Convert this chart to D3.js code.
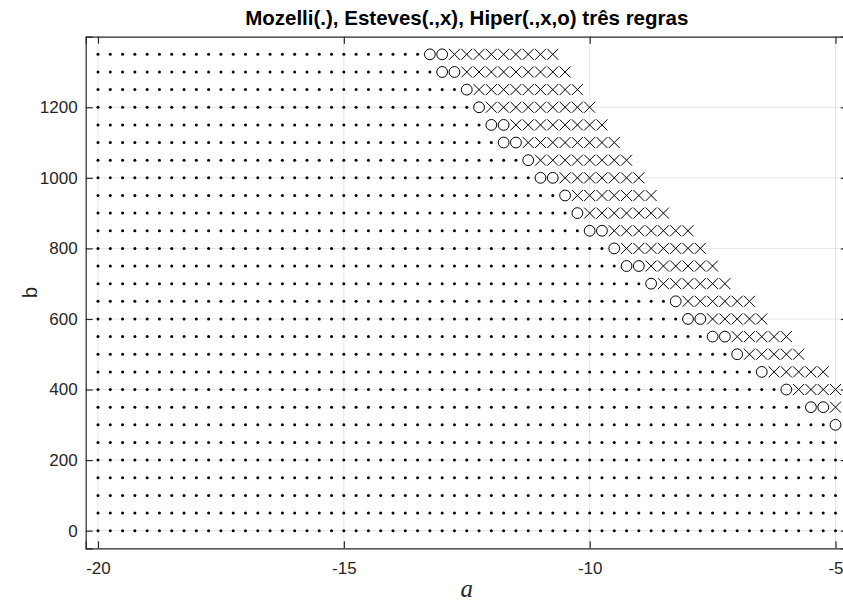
<!DOCTYPE html>
<html>
<head>
<meta charset="utf-8">
<script src="https://cdn.jsdelivr.net/npm/d3@7"></script>
<style>
  html, body { margin: 0; padding: 0; background: #fff; }
  svg { display: block; }
</style>
</head>
<body>
<svg id="chart" width="843" height="603"></svg>
<script>
// Grid of tested (a, b) pairs
const aGrid = [-20, -19.75, -19.5, -19.25, -19, -18.75, -18.5, -18.25, -18, -17.75, -17.5, -17.25,
  -17, -16.75, -16.5, -16.25, -16, -15.75, -15.5, -15.25, -15, -14.75, -14.5, -14.25,
  -14, -13.75, -13.5, -13.25, -13, -12.75, -12.5, -12.25, -12, -11.75, -11.5, -11.25,
  -11, -10.75, -10.5, -10.25, -10, -9.75, -9.5, -9.25, -9, -8.75, -8.5, -8.25,
  -8, -7.75, -7.5, -7.25, -7, -6.75, -6.5, -6.25, -6, -5.75, -5.5, -5.25, -5];

const bRows = [1350, 1300, 1250, 1200, 1150, 1100, 1050, 1000, 950, 900, 850, 800, 750, 700,
  650, 600, 550, 500, 450, 400, 350, 300, 250, 200, 150, 100, 50, 0];

// Mozelli (.): largest a still feasible on each row
const mozelliLast = [-13.5, -13.25, -12.75, -12.5, -12.25, -12, -11.5, -11.25, -10.75, -10.5,
  -10.25, -9.75, -9.5, -9, -8.5, -8.25, -7.75, -7.25, -6.75, -6.25, -5.75, -5.25,
  -5, -5, -5, -5, -5, -5];

// Hiper (o): extra feasible points on each row
const hiperPoints = [[-13.25, -13], [-13, -12.75], [-12.5], [-12.25], [-12, -11.75], [-11.75, -11.5],
  [-11.25], [-11, -10.75], [-10.5], [-10.25], [-10, -9.75], [-9.5], [-9.25, -9], [-8.75],
  [-8.25], [-8, -7.75], [-7.5, -7.25], [-7], [-6.5], [-6], [-5.5, -5.25], [-5],
  [], [], [], [], [], []];

// Esteves (x): [first a, last a] on each row
const estevesSpan = [[-12.75, -10.75], [-12.5, -10.5], [-12.25, -10.25], [-12, -10], [-11.5, -9.75],
  [-11.25, -9.5], [-11, -9.25], [-10.5, -9], [-10.25, -8.75], [-10, -8.5], [-9.5, -8],
  [-9.25, -7.75], [-8.75, -7.5], [-8.5, -7.25], [-8, -6.75], [-7.5, -6.5], [-7, -6],
  [-6.75, -5.75], [-6.25, -5.25], [-5.75, -5], [-5, -5], null,
  null, null, null, null, null, null];

const xTicks = [-20, -15, -10, -5];
const yTicks = [0, 200, 400, 600, 800, 1000, 1200];
const titleText = "Mozelli(.), Esteves(.,x), Hiper(.,x,o) três regras";

const svg = d3.select("#chart");
const ink = "#262626";
const sans = "'Liberation Sans', Arial, Helvetica, sans-serif";

const x = d3.scaleLinear().domain([-20.25, -4.75]).range([85.7, 847.8]);
const y = d3.scaleLinear().domain([-50, 1400]).range([548.3, 36.7]);
const [x0, x1] = x.range();
const [y0, y1] = y.range();

// Grid lines
const grid = svg.append("g").attr("stroke", "#e5e5e5").attr("stroke-width", 1);
grid.selectAll("line.gx").data(xTicks).join("line")
  .attr("x1", d => x(d)).attr("x2", d => x(d)).attr("y1", y0).attr("y2", y1);
grid.selectAll("line.gy").data(yTicks).join("line")
  .attr("y1", d => y(d)).attr("y2", d => y(d)).attr("x1", x0).attr("x2", x1);

// Build point sets
const dots = [], circles = [], crosses = [];
bRows.forEach((b, i) => {
  aGrid.filter(a => a <= mozelliLast[i]).forEach(a => dots.push({ a, b }));
  hiperPoints[i].forEach(a => circles.push({ a, b }));
  const s = estevesSpan[i];
  if (s) aGrid.filter(a => a >= s[0] && a <= s[1]).forEach(a => crosses.push({ a, b }));
});

const marks = svg.append("g");
marks.selectAll("circle.dot").data(dots).join("circle")
  .attr("cx", d => x(d.a)).attr("cy", d => y(d.b)).attr("r", 1.5).attr("fill", "#000");
marks.selectAll("circle.o").data(circles).join("circle")
  .attr("cx", d => x(d.a)).attr("cy", d => y(d.b)).attr("r", 5.4)
  .attr("fill", "none").attr("stroke", "#000").attr("stroke-width", 1);
const h = 5.5;
marks.selectAll("path.x").data(crosses).join("path")
  .attr("d", d => {
    const cx = x(d.a), cy = y(d.b);
    return `M${cx - h},${cy - h}L${cx + h},${cy + h}M${cx - h},${cy + h}L${cx + h},${cy - h}`;
  })
  .attr("stroke", "#000").attr("stroke-width", 1).attr("fill", "none");

// Axes with inward ticks
const tickLen = 7;
const plain = d => String(d);
const xAxis = d3.axisBottom(x).tickValues(xTicks).tickSize(-tickLen).tickPadding(14).tickFormat(plain);
const yAxis = d3.axisLeft(y).tickValues(yTicks).tickSize(-tickLen).tickPadding(8).tickFormat(plain);

const gx = svg.append("g").attr("transform", `translate(0,${y0})`).call(xAxis);
const gy = svg.append("g").attr("transform", `translate(${x0},0)`).call(yAxis);
const gxTop = svg.append("g").attr("transform", `translate(0,${y1})`)
  .call(d3.axisTop(x).tickValues(xTicks).tickSize(-tickLen).tickFormat(""));
const gyRight = svg.append("g").attr("transform", `translate(${x1},0)`)
  .call(d3.axisRight(y).tickValues(yTicks).tickSize(-tickLen).tickFormat(""));

[gx, gy, gxTop, gyRight].forEach(g => {
  g.attr("font-size", null).attr("font-family", null);
  g.select(".domain").attr("stroke", ink).attr("stroke-width", 1.2);
  g.selectAll(".tick line").attr("stroke", ink).attr("stroke-width", 1.2);
  g.selectAll(".tick text").attr("fill", ink)
    .attr("font-family", sans).attr("font-size", 17);
});

// Title
svg.append("text")
  .attr("x", (x0 + x1) / 2).attr("y", 25)
  .attr("text-anchor", "middle")
  .attr("font-family", sans)
  .attr("font-weight", "bold").attr("font-size", 20.5)
  .attr("fill", "#000")
  .text(titleText);

// Axis labels
svg.append("text")
  .attr("x", (x0 + x1) / 2).attr("y", 597)
  .attr("text-anchor", "middle")
  .attr("font-family", "'Liberation Serif', 'Times New Roman', serif")
  .attr("font-style", "italic").attr("font-size", 25)
  .attr("fill", ink)
  .text("a");

svg.append("text")
  .attr("transform", `translate(37,${(y0 + y1) / 2}) rotate(-90)`)
  .attr("text-anchor", "middle")
  .attr("font-family", sans)
  .attr("font-size", 20)
  .attr("fill", ink)
  .text("b");
</script>
</body>
</html>
